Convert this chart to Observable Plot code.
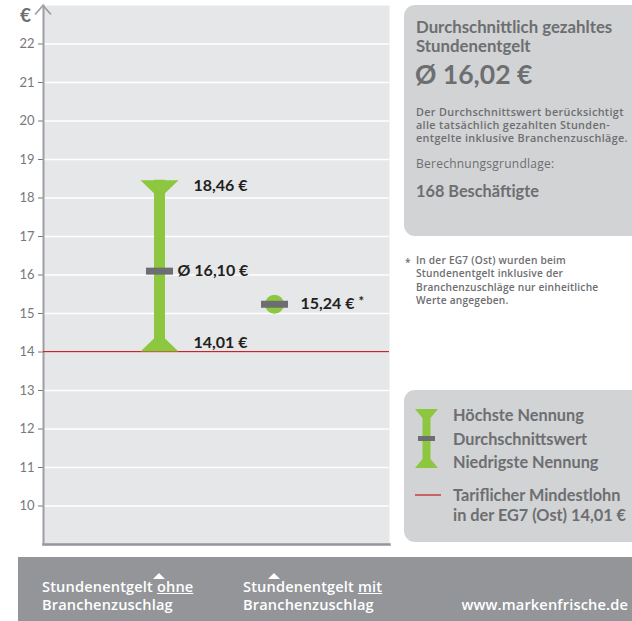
<!DOCTYPE html>
<html><head><meta charset="utf-8">
<script src="https://cdn.jsdelivr.net/npm/d3@7"></script>
<script src="https://cdn.jsdelivr.net/npm/@observablehq/plot@0.6"></script>
<style>
body{margin:0;background:#fff;font-family:Lato,"Open Sans",sans-serif;}
#wrap{position:relative;width:632px;height:621px;overflow:hidden;}
#wrap > svg.plot{position:absolute;left:0;top:0;}
.box{position:absolute;background:#d1d3d4;border-radius:11px 0 0 11px;color:#6d6e71;font-weight:700;}
.abs{position:absolute;white-space:nowrap;}
#band{position:absolute;left:18px;top:557px;width:620px;height:64px;background:#939598;color:#fff;}
.tri{position:absolute;width:0;height:0;border-left:6px solid transparent;border-right:6px solid transparent;border-bottom:6px solid #fff;}
</style></head><body><div id="wrap"></div>
<script>
// ---- data ----
const categories = ["Stundenentgelt ohne Branchenzuschlag", "Stundenentgelt mit Branchenzuschlag"];
const catLine1 = ["Stundenentgelt ", "Stundenentgelt "];
const catEmphasis = ["ohne", "mit"];
const catLine2 = ["Branchenzuschlag", "Branchenzuschlag"];
const highest = [18.46, null];
const average = [16.10, 15.24];
const lowest = [14.01, null];
const footnoteMark = [false, true];
const minWage = 14.01;
const yTicks = [10, 11, 12, 13, 14, 15, 16, 17, 18, 19, 20, 21, 22];
const overallAverage = 16.02;
const employees = 168;

const green = "#8dc63f", dark = "#6d6e71", ink = "#231f20", axisGray = "#9d9fa2";
const fmt = v => v.toFixed(2).replace(".", ",") + " €";
const rows = categories.map((c, i) => ({cat: c, high: highest[i], avg: average[i], low: lowest[i], star: footnoteMark[i]}));
const ranges = rows.filter(d => d.high != null);
const singles = rows.filter(d => d.high == null);

const capTop = {draw(c){c.moveTo(-19,0);c.lineTo(19,0);c.lineTo(5.5,13);c.lineTo(-5.5,13);c.closePath();}};
const capBottom = {draw(c){c.moveTo(-19,0);c.lineTo(19,0);c.lineTo(5.5,-13);c.lineTo(-5.5,-13);c.closePath();}};
const meanBar = {draw(c){c.rect(-13.5,-3.5,27,7);}};

const plot = Plot.plot({
  width: 632, height: 621,
  marginLeft: 43, marginRight: 243, marginTop: 5, marginBottom: 77,
  style: {fontFamily: "Lato, 'Open Sans', sans-serif", fontSize: "13px", background: "transparent"},
  x: {type: "point", domain: categories, padding: 1, axis: null},
  y: {domain: [9, 23], axis: null},
  marks: [
    Plot.frame({fill: "#e6e7e8", stroke: null}),
    Plot.ruleY(yTicks, {stroke: "#fff", strokeWidth: 1.6}),
    Plot.frame({anchor: "bottom", stroke: "#939598", strokeWidth: 2.5}),
    Plot.axisY({ticks: yTicks, tickSize: 5, tickPadding: 4, color: "#77787b", fontSize: 13, label: null, tickFormat: d => d}),
    Plot.frame({anchor: "left", stroke: axisGray, strokeWidth: 2}),
    Plot.text(["€"], {x: null, y: null, text: d => d, frameAnchor: "top-left", textAnchor: "middle", lineAnchor: "middle", dx: -18, dy: 10, fontSize: 19, fontWeight: "bold", fill: dark}),
    Plot.ruleY([minWage], {stroke: "#c1272d", strokeWidth: 1.3}),
    Plot.ruleX(ranges, {x: "cat", y1: "low", y2: "high", stroke: green, strokeWidth: 11}),
    Plot.dot(ranges, {x: "cat", y: "high", symbol: capTop, fill: green}),
    Plot.dot(ranges, {x: "cat", y: "low", symbol: capBottom, fill: green}),
    Plot.dot(singles, {x: "cat", y: "avg", r: 9.5, fill: green}),
    Plot.dot(rows, {x: "cat", y: "avg", symbol: meanBar, fill: dark}),
    Plot.text(ranges, {x: "cat", y: "high", text: d => fmt(d.high), dx: 34, dy: 6, textAnchor: "start", fontSize: 16, fontWeight: "bold", fill: ink}),
    Plot.text(ranges, {x: "cat", y: "low", text: d => fmt(d.low), dx: 34, dy: -9, textAnchor: "start", fontSize: 16, fontWeight: "bold", fill: ink}),
    Plot.text(ranges, {x: "cat", y: "avg", text: d => "Ø " + fmt(d.avg), dx: 18, dy: 0, textAnchor: "start", fontSize: 16, fontWeight: "bold", fill: ink}),
    Plot.text(singles, {x: "cat", y: "avg", text: d => fmt(d.avg), dx: 26, dy: 0, textAnchor: "start", fontSize: 16, fontWeight: "bold", fill: ink}),
    Plot.text(singles.filter(d => d.star), {x: "cat", y: "avg", text: d => "*", dx: 84, dy: -2, textAnchor: "start", fontSize: 13, fontWeight: "bold", fill: ink})
  ]
});
plot.classList.add("plot");
const wrap = document.getElementById("wrap");
wrap.appendChild(plot);

// arrow head on top of the y axis
const arrow = document.createElementNS("http://www.w3.org/2000/svg", "svg");
arrow.setAttribute("width", "24"); arrow.setAttribute("height", "16");
arrow.setAttribute("style", "position:absolute;left:31px;top:4px;");
arrow.innerHTML = `<path d="M4,10.5L12,1.5L20,10.5" fill="none" stroke="${axisGray}" stroke-width="1.8"/>`;
wrap.appendChild(arrow);

function addLines(parent, left, top, spacing, lines, css) {
  lines.forEach((t, i) => {
    const d = document.createElement("div");
    d.className = "abs";
    d.style.cssText = css;
    d.style.left = left + "px";
    d.style.top = (top + i * spacing) + "px";
    d.style.lineHeight = spacing + "px";
    d.innerHTML = t;
    parent.appendChild(d);
  });
}
const OS = "font-family:'Open Sans',sans-serif;";

// right panel box 1
const box1 = document.createElement("div");
box1.className = "box";
Object.assign(box1.style, {left: "404px", top: "5px", width: "240px", height: "231px"});
wrap.appendChild(box1);
addLines(box1, 12, 12, 19, ["Durchschnittlich gezahltes", "Stundenentgelt"], "font-size:16.8px;");
addLines(box1, 11, 54, 30, ["Ø " + overallAverage.toFixed(2).replace(".", ",") + " €"], "font-size:26.5px;");
addLines(box1, 12, 99.5, 13, ["Der Durchschnittswert berücksichtigt", "alle tatsächlich gezahlten Stunden-", "entgelte inklusive Branchenzuschläge."], OS + "font-size:10.8px;font-weight:600;letter-spacing:0.35px;");
addLines(box1, 12, 150.5, 15, ["Berechnungsgrundlage:"], OS + "font-size:12px;font-weight:400;letter-spacing:0.25px;");
addLines(box1, 12, 175.5, 19, [employees + " Beschäftigte"], "font-size:16.3px;");

// footnote
const footCss = OS + "font-size:10.2px;font-weight:600;letter-spacing:0.2px;color:#6d6e71;";
addLines(wrap, 405, 256, 13.4, ["*"], footCss);
addLines(wrap, 416, 254, 13.4, ["In der EG7 (Ost) wurden beim", "Stundenentgelt inklusive der", "Branchenzuschläge nur einheitliche", "Werte angegeben."], footCss);

// legend box
const box2 = document.createElement("div");
box2.className = "box";
Object.assign(box2.style, {left: "404px", top: "390px", width: "240px", height: "152px"});
box2.innerHTML = `
 <svg class="abs" style="left:11px;top:19px;" width="30" height="95">
   <path d="M0,0H23L15.5,9V50L23,59H0L7.5,50V9Z" fill="${green}"/>
   <rect x="3" y="27" width="17" height="5" fill="${dark}"/>
   <line x1="0" x2="26" y1="86" y2="86" stroke="#c1272d" stroke-width="1.3"/>
 </svg>`;
wrap.appendChild(box2);
addLines(box2, 49, 13, 23.5, ["Höchste Nennung", "Durchschnittswert", "Niedrigste Nennung"], "font-size:16.3px;");
addLines(box2, 49, 95, 20, ["Tariflicher Mindestlohn", "in der EG7 (Ost) " + minWage.toFixed(2).replace(".", ",") + " €"], "font-size:16.3px;");

// bottom band with category labels
const band = document.createElement("div");
band.id = "band";
wrap.appendChild(band);
const xs = plot.scale("x");
const labelLeft = [42, 243];
const bandCss = OS + "font-size:14.6px;font-weight:600;letter-spacing:0.15px;color:#fff;";
categories.forEach((c, i) => {
  const t = document.createElement("div");
  t.className = "tri";
  t.style.left = (xs.apply(c) - 18 - 6) + "px";
  t.style.top = "16px";
  band.appendChild(t);
  addLines(band, labelLeft[i] - 18, 21, 17.5, [catLine1[i] + "<u>" + catEmphasis[i] + "</u>", catLine2[i]], bandCss);
});
const site = document.createElement("div");
site.className = "abs";
site.style.cssText = bandCss + "right:10px;top:38.5px;line-height:17.5px;";
site.textContent = "www.markenfrische.de";
band.appendChild(site);
</script></body></html>
